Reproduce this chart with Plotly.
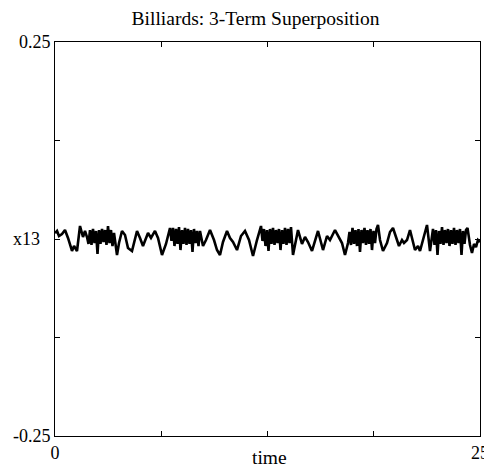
import plotly.graph_objects as go

# Values (time, x13)
time = [
    0.000, 0.118, 0.235, 0.412, 0.588, 0.765, 1.000, 1.118, 1.294, 1.471, 1.647, 1.765, 1.882,
    1.971, 2.059, 2.147, 2.235, 2.324, 2.412, 2.500, 2.588, 2.676, 2.765, 2.853, 2.941, 3.029,
    3.118, 3.206, 3.294, 3.382, 3.471, 3.647,
    3.765, 3.941, 4.118, 4.294, 4.529, 4.824, 5.000, 5.176, 5.471, 5.647, 5.882, 6.059, 6.294,
    6.529, 6.765,
    6.853, 6.941, 7.029, 7.118, 7.206, 7.294, 7.382, 7.471, 7.559, 7.647, 7.735, 7.824, 7.912,
    8.000, 8.088, 8.176, 8.265, 8.353, 8.441,
    8.529, 8.706, 8.882, 9.118, 9.353, 9.529, 9.706, 9.882, 10.118, 10.294, 10.471, 10.706,
    10.941, 11.176, 11.412, 11.647, 11.882, 12.118,
    12.206, 12.294, 12.382, 12.471, 12.559, 12.647, 12.735, 12.824, 12.912, 13.000, 13.088,
    13.176, 13.265, 13.353, 13.441, 13.529, 13.618, 13.706, 13.794, 13.882,
    14.000, 14.118, 14.294, 14.529, 14.706, 14.882, 15.118, 15.471, 15.765, 16.000, 16.176,
    16.471, 16.647, 16.882, 17.059, 17.235,
    17.324, 17.412, 17.500, 17.588, 17.676, 17.765, 17.853, 17.941, 18.029, 18.118, 18.206,
    18.294, 18.382, 18.471, 18.559, 18.647, 18.735, 18.824, 18.912, 19.000,
    19.118, 19.294, 19.529, 19.706, 19.882, 20.059, 20.235, 20.412, 20.529, 20.706, 20.882,
    21.176, 21.353, 21.471, 21.706, 21.882, 22.059,
    22.147, 22.235, 22.324, 22.412, 22.500, 22.588, 22.676, 22.765, 22.853, 22.941, 23.029,
    23.118, 23.206, 23.294, 23.382, 23.471, 23.559, 23.647, 23.735, 23.824, 23.912, 24.000,
    24.088, 24.176, 24.265,
    24.412, 24.529, 24.647, 24.765, 24.882, 25.000,
]
x13 = [
    0.0076, 0.0102, 0.0038, 0.0063, 0.0114, 0.0013, -0.0152, -0.0089, -0.0152, 0.0165, 0.0025, 0.0102, 0.0025,
    -0.0063, 0.0114, -0.0076, 0.0127, -0.0051, 0.0102, -0.0190, 0.0114, -0.0063, 0.0127, -0.0038, 0.0114, -0.0076,
    0.0165, -0.0051, 0.0114, -0.0089, 0.0076, -0.0203,
    -0.0051, 0.0102, 0.0051, -0.0114, -0.0152, 0.0102, 0.0013, -0.0089, 0.0076, 0.0013, 0.0102, 0.0013, -0.0203,
    -0.0063, 0.0140,
    -0.0025, 0.0140, -0.0089, 0.0127, -0.0063, 0.0152, -0.0140, 0.0114, -0.0063, 0.0140, -0.0076, 0.0127, -0.0063,
    0.0114, -0.0165, 0.0127, -0.0051, 0.0102, -0.0089,
    0.0102, -0.0089, -0.0013, 0.0114, -0.0013, -0.0140, -0.0203, -0.0038, 0.0102, 0.0013, -0.0038, -0.0140,
    0.0038, 0.0102, -0.0013, -0.0216, -0.0013, 0.0165,
    -0.0025, 0.0127, -0.0089, 0.0114, -0.0152, 0.0127, -0.0063, 0.0140, -0.0076, 0.0114, -0.0051,
    0.0127, -0.0140, 0.0114, -0.0063, 0.0140, -0.0076, 0.0127, -0.0051, 0.0152,
    -0.0203, -0.0089, 0.0114, -0.0063, 0.0025, -0.0038, -0.0152, 0.0102, -0.0140, 0.0038, -0.0013,
    0.0114, 0.0038, -0.0051, -0.0203, -0.0051,
    0.0089, -0.0076, 0.0140, -0.0063, 0.0114, -0.0089, 0.0127, -0.0165, 0.0114, -0.0051, 0.0140,
    -0.0076, 0.0114, -0.0063, 0.0127, -0.0140, 0.0102, -0.0051, 0.0127, 0.0178,
    -0.0013, -0.0152, -0.0051, 0.0089, 0.0140, 0.0038, -0.0089, -0.0013, -0.0051, -0.0013, 0.0114,
    -0.0140, -0.0089, -0.0152, 0.0038, 0.0178, -0.0152,
    -0.0013, 0.0127, -0.0076, 0.0114, -0.0203, 0.0102, -0.0063, 0.0152, -0.0076, 0.0114, -0.0051,
    0.0127, -0.0089, 0.0114, -0.0063, 0.0140, -0.0076, 0.0114, -0.0051, 0.0127, -0.0203, 0.0102,
    -0.0063, 0.0114, 0.0140,
    -0.0076, -0.0178, -0.0063, -0.0102, -0.0013, -0.0038,
]

x_tickvals = [0, 6.25, 12.5, 18.75, 25]
x_ticktext = ["0", "", "", "", "25"]
y_tickvals = [-0.25, -0.125, 0, 0.125, 0.25]
y_ticktext = ["-0.25", "", "", "", "0.25"]

FONT = "Liberation Serif, Times New Roman, serif"

fig = go.Figure()
fig.add_trace(go.Scatter(
    x=time, y=x13, mode="lines",
    line=dict(color="black", width=2.6),
    showlegend=False,
))

axis_common = dict(
    showline=True, linecolor="black", linewidth=1, mirror="allticks",
    ticks="inside", ticklen=5, tickcolor="black", tickwidth=1,
    showgrid=False, zeroline=False, automargin=False,
    ticklabeloverflow="allow",
    tickfont=dict(family=FONT, size=18, color="black"),
)

fig.update_xaxes(range=[0, 25], tickmode="array", tickvals=x_tickvals,
                 ticktext=x_ticktext, **axis_common)
fig.update_yaxes(range=[-0.25, 0.25], tickmode="array", tickvals=y_tickvals,
                 ticktext=y_ticktext, **axis_common)

fig.update_layout(
    width=484, height=466, autosize=False,
    margin=dict(l=55, r=4, t=42, b=30, autoexpand=False),
    paper_bgcolor="white", plot_bgcolor="white",
    font=dict(family=FONT, size=18, color="black"),
    title=dict(text="Billiards: 3-Term Superposition", x=255.5 / 484, xanchor="center",
               y=1 - 18 / 466, yanchor="middle", yref="container",
               font=dict(family=FONT, size=19.5, color="black")),
    annotations=[
        dict(text="time", xref="paper", yref="paper", x=0.505, y=-21 / 394,
             xanchor="center", yanchor="middle", showarrow=False,
             font=dict(family=FONT, size=19.5, color="black")),
        dict(text="x13", xref="paper", yref="y", x=0, y=0, xshift=-13,
             xanchor="right", yanchor="middle", showarrow=False,
             font=dict(family=FONT, size=18, color="black")),
    ],
)

post = (
    "document.body.style.margin='0';document.body.style.padding='0';"
    "document.documentElement.style.overflow='hidden';document.body.style.overflow='hidden';"
    "var gd=document.getElementById('{plot_id}');"
    "Plotly.relayout(gd,{width:484,height:466});"
)

fig.write_html("out.html", config={"responsive": False, "displayModeBar": False},
               post_script=post)
